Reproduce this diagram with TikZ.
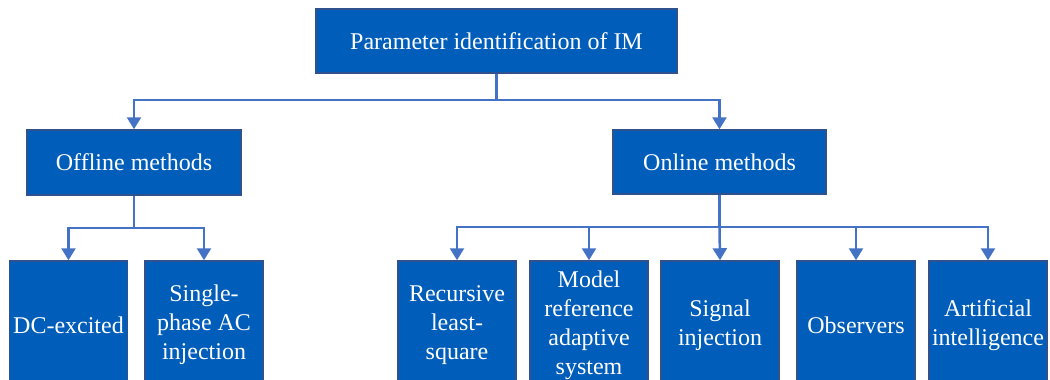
\documentclass[tikz,border=0pt]{standalone}
\usepackage{fontspec}
\setmainfont{Liberation Serif}
\usetikzlibrary{arrows.meta}
\definecolor{boxfill}{HTML}{005DBA}
\definecolor{boxedge}{HTML}{2F528F}
\definecolor{linkblue}{HTML}{4472C4}
\tikzset{
  box/.style={draw=boxedge, line width=1.5pt, fill=boxfill, text=white,
    inner sep=0pt, align=center, font=\fontsize{24}{29}\selectfont},
  leaf/.style={box, minimum width=118pt, minimum height=128pt},
  link/.style={draw=linkblue, line width=2.5pt},
  arr/.style={link, -{Triangle[length=12pt, width=14pt]}}
}
\begin{document}
\begin{tikzpicture}[x=1pt, y=-1pt]
\useasboundingbox (0,0) rectangle (1050,380);
\clip (0,0) rectangle (1050,380);

% root and the two method families
\node[box, minimum width=361pt, minimum height=64pt] (root) at (496.5,41) {Parameter identification of IM};
\node[box, minimum width=214pt, minimum height=65pt] (off) at (134,162.5) {Offline methods};
\node[box, minimum width=213pt, minimum height=64pt] (on) at (719.5,162) {Online methods};

% offline techniques
\node[leaf] (dc) at (68.5,325) {DC-excited};
\node[leaf] (ac) at (204,325) {Single-\\phase AC\\injection};

% online techniques
\node[leaf] (rls) at (457,325) {Recursive\\least-\\square};
\node[leaf] (mras) at (589,325) {Model\\reference\\adaptive\\system};
\node[leaf] (sig) at (720,325) {Signal\\injection};
\node[leaf] (obs) at (856,325) {Observers};
\node[leaf] (ai) at (988,325) {Artificial\\intelligence};

% bus junctions
\coordinate (b0) at (496.5,100);
\coordinate (b1) at (134,228);
\coordinate (b2) at (719.5,227);

\draw[link] (root.south) -- (b0);
\draw[arr] (b0) -| (off.north);
\draw[arr] (b0) -| (on.north);

\draw[link] (off.south) -- (b1);
\draw[arr] (b1) -| (dc.north);
\draw[arr] (b1) -| (ac.north);

\draw[link] (on.south) -- (b2);
\draw[arr] (b2) -| (rls.north);
\draw[arr] (b2) -| (mras.north);
\draw[arr] (b2) -- (sig.north);
\draw[arr] (b2) -| (obs.north);
\draw[arr] (b2) -| (ai.north);
\end{tikzpicture}
\end{document}
